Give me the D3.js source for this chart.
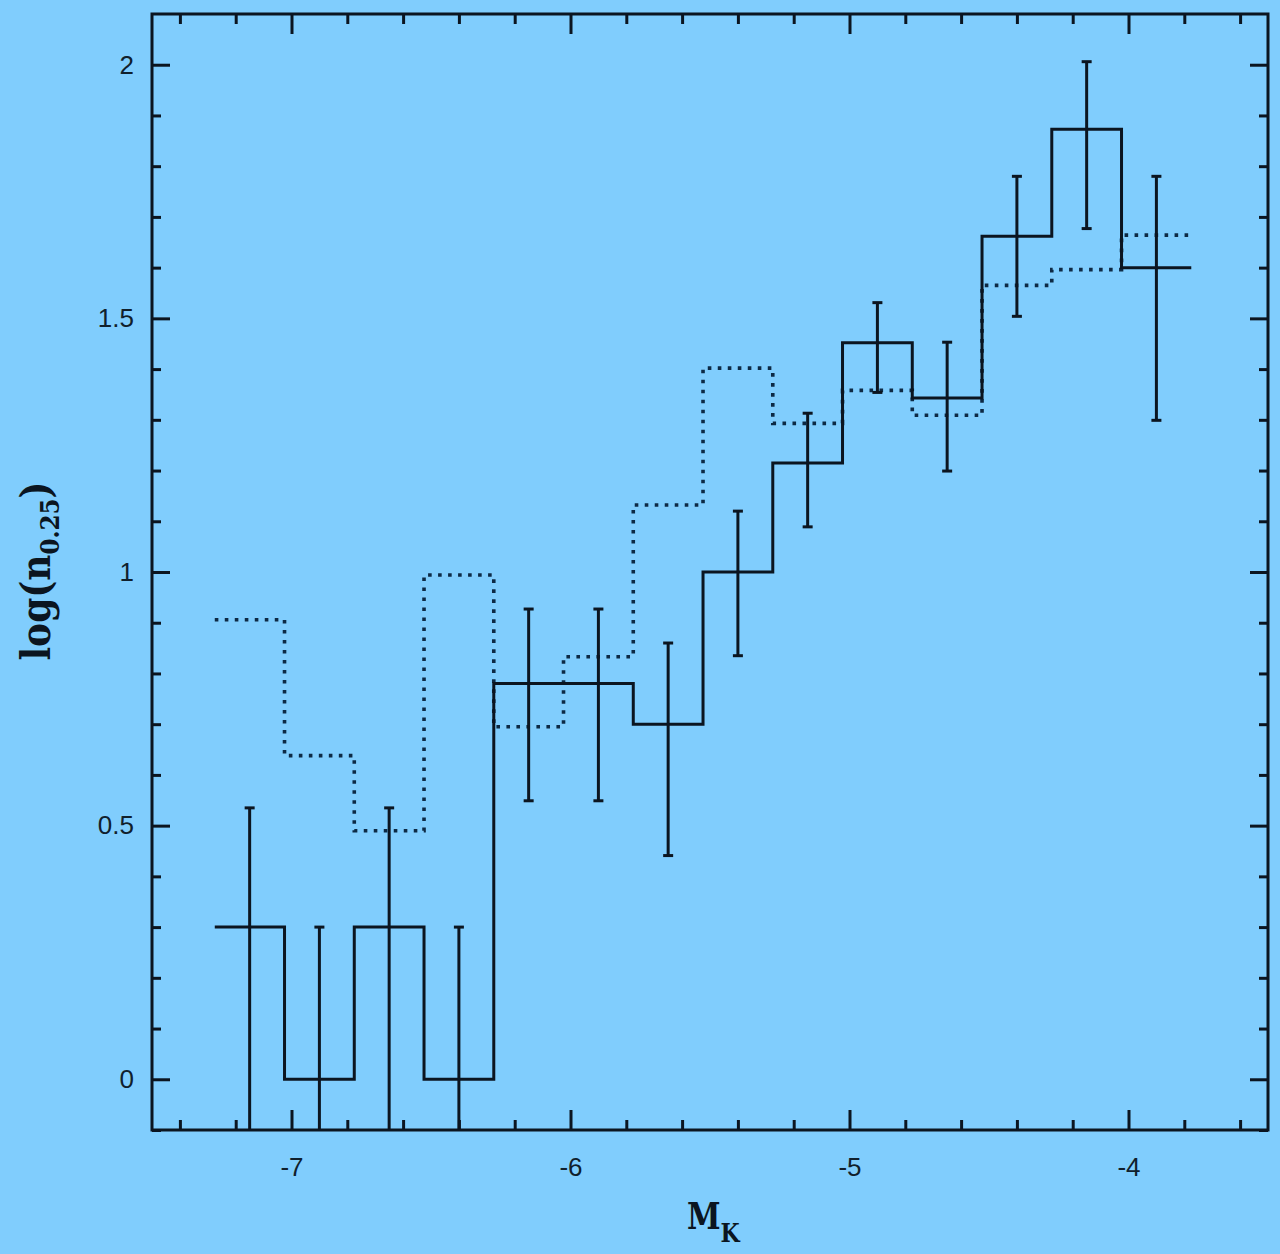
<!DOCTYPE html>
<html><head><meta charset="utf-8">
<script src="https://cdn.jsdelivr.net/npm/d3@7"></script>
<style>html,body{margin:0;padding:0;background:#80cdfd;}</style>
</head><body>
<svg id="c" width="1280" height="1254"></svg>
<script>
// bin left edges (MK), bin width 0.25
const binStarts = [-7.275,-7.025,-6.775,-6.525,-6.275,-6.025,-5.775,-5.525,-5.275,-5.025,-4.775,-4.525,-4.275,-4.025];
const binWidth = 0.25;
const solidVals = [0.30,0.0,0.30,0.0,0.78,0.78,0.70,1.0,1.215,1.452,1.343,1.662,1.873,1.60];
const errHigh   = [0.535,0.30,0.535,0.30,0.927,0.927,0.86,1.12,1.313,1.531,1.453,1.78,2.006,1.78];
const errLow    = [null,null,null,null,0.549,0.549,0.441,0.835,1.089,1.354,1.199,1.504,1.677,1.299];
const dottedVals= [0.906,0.638,0.49,0.994,0.695,0.833,1.132,1.402,1.293,1.358,1.309,1.565,1.596,1.664];
const xMajorTicks = [-7,-6,-5,-4];
const yMajorTicks = [0,0.5,1,1.5,2];

const svg = d3.select('#c');
const L=152,R=1268,T=14,B=1130;
const x = d3.scaleLinear().domain([-7.5,-3.5]).range([L,R]);
const y = d3.scaleLinear().domain([-0.1,2.1]).range([B,T]);
const ink = '#0b1520';

svg.append('defs').append('clipPath').attr('id','clip')
  .append('rect').attr('x',L).attr('y',T).attr('width',R-L).attr('height',B-T);

const g = svg.append('g').attr('clip-path','url(#clip)');

function stepPath(vals){
  const pts=[];
  binStarts.forEach((s,i)=>{pts.push([s,vals[i]]);pts.push([s+binWidth,vals[i]]);});
  return d3.line().x(d=>x(d[0])).y(d=>y(d[1]))(pts);
}
// dotted histogram
g.append('path').attr('d',stepPath(dottedVals)).attr('fill','none')
  .attr('stroke','#0d2a45').attr('stroke-width',3.6).attr('stroke-linecap','butt')
  .attr('stroke-dasharray','3.6 6.4');
// solid histogram
g.append('path').attr('d',stepPath(solidVals)).attr('fill','none')
  .attr('stroke',ink).attr('stroke-width',3).attr('stroke-linejoin','miter');
// error bars
binStarts.forEach((s,i)=>{
  const cx=x(s+binWidth/2);
  const lo = errLow[i]===null ? y.domain()[0]-0.05 : errLow[i];
  g.append('line').attr('x1',cx).attr('x2',cx).attr('y1',y(errHigh[i])).attr('y2',y(lo))
    .attr('stroke',ink).attr('stroke-width',3);
  g.append('line').attr('x1',cx-5).attr('x2',cx+5).attr('y1',y(errHigh[i])).attr('y2',y(errHigh[i]))
    .attr('stroke',ink).attr('stroke-width',3);
  if(errLow[i]!==null){
    g.append('line').attr('x1',cx-5).attr('x2',cx+5).attr('y1',y(errLow[i])).attr('y2',y(errLow[i]))
      .attr('stroke',ink).attr('stroke-width',3);
  }
});

// axes with inward ticks on all sides
function styleAxis(sel){
  sel.select('.domain').remove();
  sel.selectAll('line').attr('stroke',ink).attr('stroke-width',3);
  sel.selectAll('text').attr('fill','#10202c').attr('font-family','Liberation Sans, Arial, sans-serif').attr('font-size',26);
}
const xMinor = d3.range(-7.4,-3.5,0.2).map(v=>+v.toFixed(1)).filter(v=>!xMajorTicks.includes(v));
const yMinor = d3.range(-0.1,2.1,0.1).map(v=>+v.toFixed(1)).filter(v=>!yMajorTicks.includes(v));

// bottom
svg.append('g').attr('transform',`translate(0,${B})`)
  .call(d3.axisTop(x).tickValues(xMajorTicks).tickSize(20).tickFormat(''))
  .call(styleAxis);
svg.append('g').attr('transform',`translate(0,${B})`)
  .call(d3.axisTop(x).tickValues(xMinor).tickSize(10).tickFormat(''))
  .call(styleAxis);
svg.append('g').attr('transform',`translate(0,${B})`)
  .call(d3.axisBottom(x).tickValues(xMajorTicks).tickSize(0).tickPadding(28).tickFormat(d=>String(d)))
  .call(styleAxis);
// top
svg.append('g').attr('transform',`translate(0,${T})`)
  .call(d3.axisBottom(x).tickValues(xMajorTicks).tickSize(20).tickFormat(''))
  .call(styleAxis);
svg.append('g').attr('transform',`translate(0,${T})`)
  .call(d3.axisBottom(x).tickValues(xMinor).tickSize(10).tickFormat(''))
  .call(styleAxis);
// left
svg.append('g').attr('transform',`translate(${L},0)`)
  .call(d3.axisRight(y).tickValues(yMajorTicks).tickSize(18).tickFormat(''))
  .call(styleAxis);
svg.append('g').attr('transform',`translate(${L},0)`)
  .call(d3.axisRight(y).tickValues(yMinor).tickSize(9).tickFormat(''))
  .call(styleAxis);
svg.append('g').attr('transform',`translate(${L},0)`)
  .call(d3.axisLeft(y).tickValues(yMajorTicks).tickSize(0).tickPadding(18).tickFormat(d=>String(d)))
  .call(styleAxis);
// right
svg.append('g').attr('transform',`translate(${R},0)`)
  .call(d3.axisLeft(y).tickValues(yMajorTicks).tickSize(18).tickFormat(''))
  .call(styleAxis);
svg.append('g').attr('transform',`translate(${R},0)`)
  .call(d3.axisLeft(y).tickValues(yMinor).tickSize(9).tickFormat(''))
  .call(styleAxis);

// frame
svg.append('rect').attr('x',L).attr('y',T).attr('width',R-L).attr('height',B-T)
  .attr('fill','none').attr('stroke',ink).attr('stroke-width',3);

// titles
const serif = 'DejaVu Serif, Liberation Serif, serif';
const xt = svg.append('text').attr('transform','translate(687,1229) scale(0.92,1.12)').attr('font-family',serif)
  .attr('font-weight','bold').attr('font-size',33).attr('fill',ink);
xt.append('tspan').text('M');
xt.append('tspan').attr('font-size',24).attr('dy',12).text('K');

const yt = svg.append('text').attr('transform','translate(50,571) rotate(-90) scale(1,1.12)')
  .attr('text-anchor','middle').attr('font-family',serif)
  .attr('font-weight','bold').attr('font-size',36).attr('fill',ink);
yt.append('tspan').text('log(n');
yt.append('tspan').attr('font-size',23).attr('dy',8).text('0.25');
yt.append('tspan').attr('dy',-8).text(')');
</script>
</body></html>
